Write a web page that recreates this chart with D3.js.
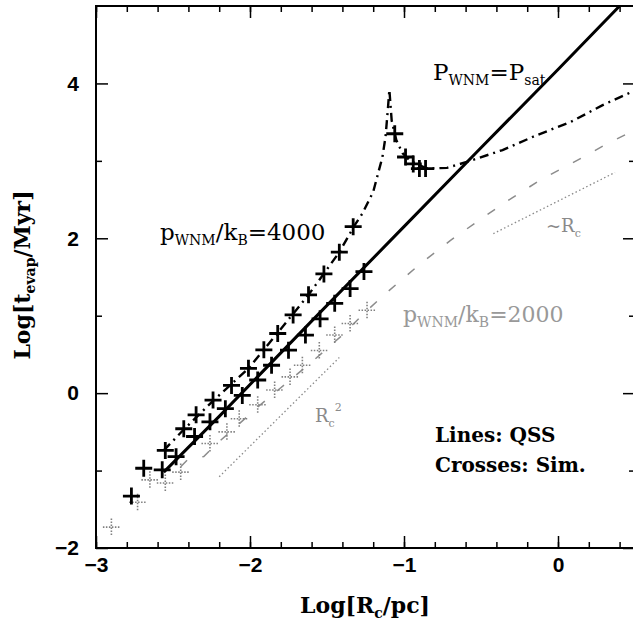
<!DOCTYPE html>
<html>
<head>
<meta charset="utf-8">
<script src="https://cdn.jsdelivr.net/npm/d3@7"></script>
<style>
  body { margin: 0; background: #fff; }
  .tick text { font-family: "Liberation Sans", Arial, sans-serif; font-weight: bold; font-size: 21px; fill: #000; }
  .tick line { stroke: #000; stroke-width: 1.5; }
  .lbl { font-family: "DejaVu Serif", serif; }
</style>
</head>
<body>
<script>
// tick values
var xMajor = [-3, -2, -1, 0];
var yMajor = [-2, 0, 2, 4];
var yMinor = [-1, 1, 3];

// QSS lines, [log Rc, log tevap]
var satLine = [[-2.56, -1.02], [-2.2, -0.30], [-1.6, 0.93], [-1.0, 2.15], [-0.5, 3.17], [0.0, 4.18], [0.40, 5.0]];
var line4000 = [[-2.56, -0.74], [-2.43, -0.47], [-2.24, -0.10], [-2.01, 0.32], [-1.82, 0.78], [-1.62, 1.27],
  [-1.42, 1.82], [-1.32, 2.17], [-1.27, 2.32], [-1.20, 2.60], [-1.14, 3.05], [-1.12, 3.31], [-1.105, 3.66],
  [-1.095, 3.92], [-1.08, 3.52], [-1.05, 3.27], [-1.01, 3.10], [-0.96, 3.0], [-0.85, 2.9], [-0.72, 2.91],
  [-0.57, 3.0], [-0.36, 3.14], [-0.14, 3.33], [0.08, 3.50], [0.29, 3.72], [0.5, 3.91]];
var line2000 = [[-2.45, -0.95], [-2.40, -0.85], [-2.30, -0.82], [-2.22, -0.66], [-2.1, -0.45], [-1.95, -0.18],
  [-1.8, 0.07], [-1.6, 0.40], [-1.4, 0.75], [-1.25, 1.05], [-1.1, 1.32], [-0.9, 1.66], [-0.7, 1.97],
  [-0.5, 2.25], [-0.3, 2.52], [-0.1, 2.77], [0.1, 2.98], [0.3, 3.2], [0.5, 3.4]];
var slopeR2 = [[-2.2, -1.08], [-1.42, 0.46]];
var slopeR1 = [[-0.42, 2.06], [0.37, 2.85]];

// simulation crosses
var sim4000 = [[-2.77, -1.33], [-2.69, -0.97], [-2.55, -0.74], [-2.43, -0.46], [-2.35, -0.28], [-2.24, -0.09],
  [-2.12, 0.10], [-2.01, 0.32], [-1.91, 0.56], [-1.82, 0.77], [-1.72, 1.01], [-1.62, 1.27], [-1.52, 1.54],
  [-1.42, 1.82], [-1.33, 2.15], [-1.06, 3.35], [-0.99, 3.05], [-0.94, 2.96], [-0.90, 2.90], [-0.86, 2.90]];
var simSat = [[-2.57, -0.99], [-2.48, -0.82], [-2.36, -0.56], [-2.26, -0.37], [-2.16, -0.20], [-2.05, -0.03],
  [-1.95, 0.17], [-1.86, 0.36], [-1.75, 0.555], [-1.64, 0.75], [-1.545, 0.96], [-1.45, 1.16], [-1.35, 1.35],
  [-1.26, 1.57]];
var sim2000 = [[-2.9, -1.73], [-2.73, -1.41], [-2.65, -1.12], [-2.55, -1.16], [-2.45, -1.02], [-2.26, -0.65],
  [-2.15, -0.50], [-2.07, -0.33], [-1.95, -0.15], [-1.84, 0.04], [-1.74, 0.21], [-1.66, 0.36], [-1.55, 0.55],
  [-1.45, 0.75], [-1.35, 0.90], [-1.24, 1.07]];

var w = 633, h = 635;
var padL = 96, padR = 635, padT = 6, padB = 548;

var x = d3.scaleLinear().domain([-3, 0.5]).range([padL, padR]);
var y = d3.scaleLinear().domain([-2, 5]).range([padB, padT]);

var svg = d3.select("body").append("svg")
  .attr("width", w)
  .attr("height", h);

svg.append("clipPath").attr("id", "clip")
  .append("rect").attr("x", padL).attr("y", padT).attr("width", padR - padL).attr("height", padB - padT);
var plot = svg.append("g").attr("clip-path", "url(#clip)");

var line = d3.line()
  .x(function(d) { return x(d[0]); })
  .y(function(d) { return y(d[1]); });

// reference slopes (dotted grey)
plot.append("path").datum(slopeR2).attr("d", line)
  .attr("fill", "none").attr("stroke", "#8a8a8a").attr("stroke-width", 1.3).attr("stroke-dasharray", "1.5,2.5");
plot.append("path").datum(slopeR1).attr("d", line)
  .attr("fill", "none").attr("stroke", "#8a8a8a").attr("stroke-width", 1.3).attr("stroke-dasharray", "1.5,2.5");

// p/k = 2000, dashed grey
plot.append("path").datum(line2000).attr("d", line)
  .attr("fill", "none").attr("stroke", "#8c8c8c").attr("stroke-width", 1.5).attr("stroke-dasharray", "9,16");

// p/k = 4000, dash-dot
plot.append("path").datum(line4000).attr("d", line)
  .attr("fill", "none").attr("stroke", "#000").attr("stroke-width", 2.4).attr("stroke-dasharray", "9,5,2,5");

// p = p_sat, solid
plot.append("path").datum(satLine).attr("d", line)
  .attr("fill", "none").attr("stroke", "#000").attr("stroke-width", 3);

function cross(d) {
  var cx = x(d[0]), cy = y(d[1]);
  return "M" + (cx - 8.5) + "," + cy + "H" + (cx + 8.5) + "M" + cx + "," + (cy - 8.5) + "V" + (cy + 8.5);
}

plot.selectAll(".c2000").data(sim2000).enter().append("path")
  .attr("class", "c2000").attr("d", cross)
  .attr("fill", "none").attr("stroke", "#808080").attr("stroke-width", 1.6).attr("stroke-dasharray", "1.5,1.5");
plot.selectAll(".csat").data(simSat).enter().append("path")
  .attr("class", "csat").attr("d", cross)
  .attr("fill", "none").attr("stroke", "#000").attr("stroke-width", 2.8);
plot.selectAll(".c4000").data(sim4000).enter().append("path")
  .attr("class", "c4000").attr("d", cross)
  .attr("fill", "none").attr("stroke", "#000").attr("stroke-width", 2.8);

// frame
svg.append("rect")
  .attr("x", padL).attr("y", padT).attr("width", padR - padL).attr("height", padB - padT)
  .attr("fill", "none").attr("stroke", "#000").attr("stroke-width", 2);

// axes, ticks pointing inward
var xMinor = d3.range(-3, 0.51, 0.2);
svg.append("g").attr("transform", "translate(0," + padB + ")")
  .call(d3.axisBottom(x).tickValues(xMinor).tickSize(-6).tickFormat(""));
svg.append("g").attr("transform", "translate(0," + padB + ")")
  .call(d3.axisBottom(x).tickValues(xMajor).tickSize(-12).tickPadding(9)
    .tickFormat(function(d) { return d < 0 ? "\u2212" + Math.abs(d) : d; }));
svg.append("g").attr("transform", "translate(0," + padT + ")")
  .call(d3.axisTop(x).tickValues(xMinor).tickSize(-6).tickFormat(""));
svg.append("g").attr("transform", "translate(0," + padT + ")")
  .call(d3.axisTop(x).tickValues(xMajor).tickSize(-12).tickFormat(""));

svg.append("g").attr("transform", "translate(" + padL + ",0)")
  .call(d3.axisLeft(y).tickValues(yMinor).tickSize(-6).tickFormat(""));
svg.append("g").attr("transform", "translate(" + padL + ",0)")
  .call(d3.axisLeft(y).tickValues(yMajor).tickSize(-12).tickPadding(17)
    .tickFormat(function(d) { return d < 0 ? "\u2212" + Math.abs(d) : d; }));
svg.append("g").attr("transform", "translate(" + padR + ",0)")
  .call(d3.axisRight(y).tickValues(yMinor).tickSize(-6).tickFormat(""));
svg.append("g").attr("transform", "translate(" + padR + ",0)")
  .call(d3.axisRight(y).tickValues(yMajor).tickSize(-12).tickFormat(""));
svg.selectAll(".domain").remove();

// axis titles
var xt = svg.append("text").attr("class", "lbl").attr("x", 365).attr("y", 613)
  .attr("text-anchor", "middle").attr("font-size", 22).attr("font-weight", "bold");
xt.append("tspan").text("Log[R");
xt.append("tspan").attr("font-size", 14).attr("dy", 5).text("c");
xt.append("tspan").attr("dy", -5).text("/pc]");

var yt = svg.append("text").attr("class", "lbl")
  .attr("transform", "translate(30,275) rotate(-90)")
  .attr("text-anchor", "middle").attr("font-size", 22).attr("font-weight", "bold");
yt.append("tspan").text("Log[t");
yt.append("tspan").attr("font-size", 14).attr("dy", 5).text("evap");
yt.append("tspan").attr("dy", -5).text("/Myr]");

// annotations
function subLabel(xp, yp, parts, size, color) {
  var t = svg.append("text").attr("class", "lbl").attr("x", xp).attr("y", yp)
    .attr("font-size", size).attr("fill", color);
  var shift = 0;
  parts.forEach(function(p) {
    var s = p[1] ? Math.round(size * 0.62) : size;
    var target = p[1] ? 5 : 0;
    t.append("tspan").attr("font-size", s).attr("dy", target - shift).text(p[0]);
    shift = target;
  });
  return t;
}
subLabel(433, 80, [["P", 0], ["WNM", 1], ["=P", 0], ["sat", 1]], 23, "#000");
subLabel(160, 240, [["p", 0], ["WNM", 1], ["/k", 0], ["B", 1], ["=4000", 0]], 23, "#000");
subLabel(403, 322, [["p", 0], ["WNM", 1], ["/k", 0], ["B", 1], ["=2000", 0]], 22, "#999");
subLabel(546, 232, [["~R", 0], ["c", 1]], 18, "#8a8a8a");
var r2 = subLabel(315, 422, [["R", 0], ["c", 1]], 18, "#8a8a8a");
r2.append("tspan").attr("font-size", 11).attr("dy", -16).text("2");

svg.append("text").attr("class", "lbl").attr("x", 435).attr("y", 442)
  .attr("font-size", 20).attr("font-weight", "bold").text("Lines: QSS");
svg.append("text").attr("class", "lbl").attr("x", 435).attr("y", 472)
  .attr("font-size", 20).attr("font-weight", "bold").text("Crosses: Sim.");
</script>
</body>
</html>
